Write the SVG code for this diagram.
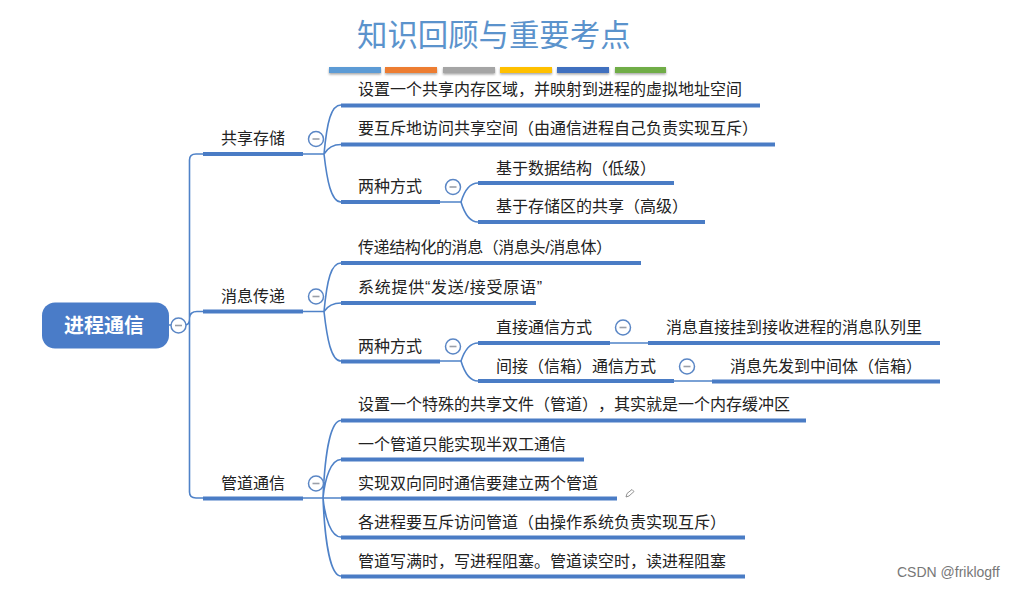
<svg xmlns="http://www.w3.org/2000/svg" width="1019" height="589" viewBox="0 0 1019 589">
<defs>
<filter id="sh" x="-5%" y="-100%" width="110%" height="400%"><feDropShadow dx="0" dy="1.5" stdDeviation="1.2" flood-color="#000" flood-opacity="0.35"/></filter>
<g id="m"><circle r="7.5" fill="#fff" stroke="#5a86c5" stroke-width="1.5"/><path d="M-3.5 0H3.5" stroke="#9a9fa8" stroke-width="1.6"/></g>
</defs>
<style>
text{font-family:"Liberation Sans","Noto Sans CJK SC",sans-serif;font-size:16px;fill:#222;text-spacing-trim:space-all}
.b{stroke:#4a7cc5;stroke-width:4;fill:none}
.c{stroke:#4f82c8;stroke-width:1.6;fill:none}
</style>
<rect width="1019" height="589" fill="#fff"/>
<g id="title"><text x="357" y="46" style="font-size:30.4px;fill:#5b93cc">知识回顾与重要考点</text>
<g filter="url(#sh)"><rect x="329" y="67" width="52" height="6" fill="#5b9bd5"/><rect x="385" y="67" width="52" height="6" fill="#ed7d31"/><rect x="443" y="67" width="52" height="6" fill="#a5a5a5"/><rect x="500" y="67" width="52" height="6" fill="#ffc000"/><rect x="557" y="67" width="52" height="6" fill="#3f6fbf"/><rect x="615" y="67" width="51" height="6" fill="#70ad47"/></g></g>
<g id="connectors">
<path class="c" d="M169 325H185Q189.500 325 189.500 319V160Q189.500 154 196 154H203M189.500 319V492Q189.500 498 196 498H203M189.500 318Q190 311.500 197 311.500H203"/>
<path class="c" d="M303 154H324M324 154C327 122 331 105 341 105M324 154C327 149 332 144.500 341 144.500M324 154C327 180 331 202 341 202"/>
<path class="c" d="M440 202H461M461 202C464 192 469 183 478 183M461 202C464 212 469 222 478 222"/>
<path class="c" d="M303 311.500H324M324 311.500C327 280 331 263 341 263M324 311.500C327 307 332 303 341 303M324 311.500C327 338 331 361 341 361"/>
<path class="c" d="M440 361H461M461 361C464 352 469 343 478 343M461 361C464 371 469 381 478 381"/>
<path class="c" d="M610 343H648M674 381H712"/>
<path class="c" d="M303 498H341M323 498C325 450 331 420.500 341 420.500M323 498C325 478 331 459.500 341 459.500M323 498C325 518 331 537 341 537M323 498C325 545 331 576 341 576"/>
</g>
<g id="root"><rect x="42" y="302.500" width="127" height="46" rx="13" fill="#4a7cc8"/><text x="64" y="333" style="font-size:20px;fill:#fff;font-weight:bold">进程通信</text><use href="#m" x="178.500" y="325.500"/></g>
<g id="n1"><path class="b" d="M203 154H303"/><text x="221" y="144">共享存储</text><use href="#m" x="316" y="139"/></g>
<g id="n1a"><path class="b" d="M341 105.500H760"/><text x="358" y="95">设置一个共享内存区域，并映射到进程的虚拟地址空间</text></g>
<g id="n1b"><path class="b" d="M341 144.500H775"/><text x="358" y="134">要互斥地访问共享空间（由通信进程自己负责实现互斥）</text></g>
<g id="n1c"><path class="b" d="M341 202H440"/><text x="358" y="192">两种方式</text><use href="#m" x="453" y="187"/></g>
<g id="n1c1"><path class="b" d="M478 183H674"/><text x="496" y="174">基于数据结构（低级）</text></g>
<g id="n1c2"><path class="b" d="M478 222H705"/><text x="496" y="212">基于存储区的共享（高级）</text></g>
<g id="n2"><path class="b" d="M203 311.500H303"/><text x="221" y="302">消息传递</text><use href="#m" x="316" y="296.500"/></g>
<g id="n2a"><path class="b" d="M341 263H641"/><text x="358" y="253" textLength="254">传递结构化的消息（消息头/消息体）</text></g>
<g id="n2b"><path class="b" d="M341 303H536"/><text x="358" y="293" textLength="184">系统提供“发送/接受原语”</text></g>
<g id="n2c"><path class="b" d="M341 361.500H440"/><text x="358" y="352">两种方式</text><use href="#m" x="453" y="346.500"/></g>
<g id="n2c1"><path class="b" d="M478 343H610"/><text x="496" y="333">直接通信方式</text><use href="#m" x="623" y="327.500"/></g>
<g id="n2c1a"><path class="b" d="M648 343H940"/><text x="666" y="333">消息直接挂到接收进程的消息队列里</text></g>
<g id="n2c2"><path class="b" d="M478 381H674"/><text x="496" y="372">间接（信箱）通信方式</text><use href="#m" x="687" y="366.500"/></g>
<g id="n2c2a"><path class="b" d="M712 381.500H940"/><text x="730" y="372">消息先发到中间体（信箱）</text></g>
<g id="n3"><path class="b" d="M203 498.500H303"/><text x="221" y="489">管道通信</text><use href="#m" x="316" y="483.500"/></g>
<g id="n3a"><path class="b" d="M341 420.500H806"/><text x="358" y="410" textLength="432">设置一个特殊的共享文件（管道），其实就是一个内存缓冲区</text></g>
<g id="n3b"><path class="b" d="M341 459.500H584"/><text x="358" y="450">一个管道只能实现半双工通信</text></g>
<g id="n3c"><path class="b" d="M341 498.500H617"/><text x="358" y="489">实现双向同时通信要建立两个管道</text></g>
<g id="n3d"><path class="b" d="M341 537.500H745"/><text x="358" y="528">各进程要互斥访问管道（由操作系统负责实现互斥）</text></g>
<g id="n3e"><path class="b" d="M341 576.500H745"/><text x="358" y="567">管道写满时，写进程阻塞。管道读空时，读进程阻塞</text></g>
<path id="pencil" d="M626 497L627 493.500L632 489.500L634 491.500L629 496Z" fill="#fff" stroke="#777" stroke-width="0.8"/>
<text id="wm" x="897" y="577" style="font-size:14px;fill:#777">CSDN @friklogff</text>
</svg>
